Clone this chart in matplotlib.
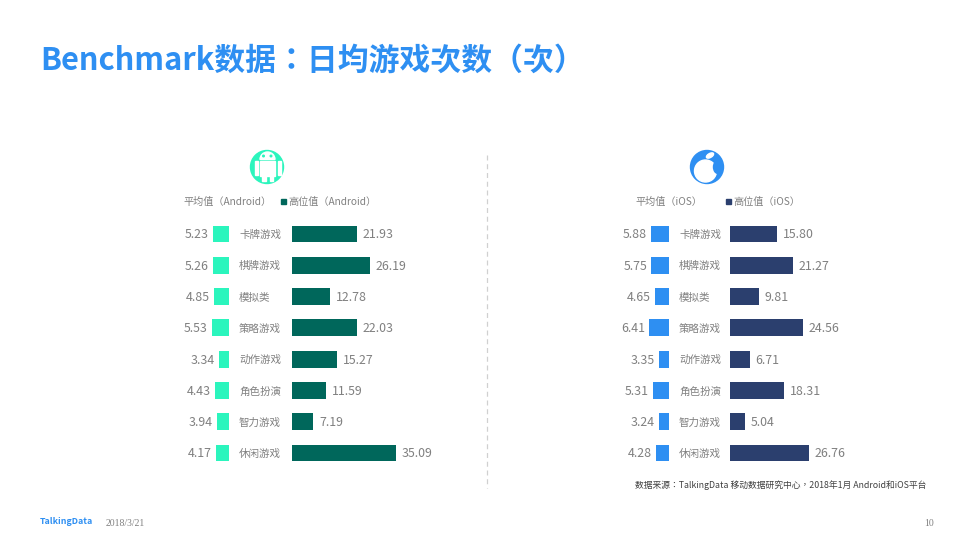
import matplotlib
matplotlib.use('Agg')
import matplotlib.pyplot as plt
from matplotlib.patches import Circle, Rectangle, Ellipse, Wedge

plt.rcParams['font.family'] = ['Noto Sans CJK SC', 'DejaVu Sans']

W, H = 973, 547

categories = ['卡牌游戏', '棋牌游戏', '模拟类', '策略游戏', '动作游戏', '角色扮演', '智力游戏', '休闲游戏']
android_avg = [5.23, 5.26, 4.85, 5.53, 3.34, 4.43, 3.94, 4.17]
android_high = [21.93, 26.19, 12.78, 22.03, 15.27, 11.59, 7.19, 35.09]
ios_avg = [5.88, 5.75, 4.65, 6.41, 3.35, 5.31, 3.24, 4.28]
ios_high = [15.80, 21.27, 9.81, 24.56, 6.71, 18.31, 5.04, 26.76]

GREY = '#808080'
BLUE = '#2e8ff2'
MINT = '#2bf5bd'
TEAL = '#00675b'
SKY = '#2e8ff2'
NAVY = '#2b3f6e'
# TC cuts centre the full width colon and comma, like the original slide
TC = ['Noto Sans CJK TC', 'DejaVu Sans']


def px_axes(fig, left, top, width, height):
    ax = fig.add_axes([left / W, 1 - (top + height) / H, width / W, height / H])
    ax.axis('off')
    return ax


def high_bars(fig, left, values, color):
    ax = px_axes(fig, left, 218.35, 190, 250.3)
    y = range(len(values))
    ax.barh(y, values, height=0.54, color=color)
    ax.set_xlim(0, 190 / 2.97)
    ax.set_ylim(7.5, -0.5)
    for i, v in enumerate(values):
        ax.annotate(f'{v:.2f}', (v, i), xytext=(4.0, -0.7), textcoords='offset points',
                    ha='left', va='center', fontsize=8.9, color=GREY)


def avg_bars(fig, right, values, color):
    ax = px_axes(fig, right - 60, 218.35, 60, 250.3)
    y = range(len(values))
    ax.barh(y, values, height=0.54, color=color)
    ax.set_xlim(60 / 3.05, 0)
    ax.set_ylim(7.5, -0.5)
    for i, v in enumerate(values):
        ax.annotate(f'{v:.2f}', (v, i), xytext=(-3.2, -0.7), textcoords='offset points',
                    ha='right', va='center', fontsize=8.9, color=GREY)
        # category names sit between the two bars
        ax.annotate(categories[i], (0, i), xytext=(7.2, -0.7),
                    textcoords='offset points', ha='left', va='center',
                    fontsize=7.6, color=GREY)


fig = plt.figure(figsize=(W / 100, H / 100), dpi=100, facecolor='white')

# slide level things, in pixel coordinates
bg = fig.add_axes([0, 0, 1, 1])
bg.set_xlim(0, W)
bg.set_ylim(H, 0)
bg.axis('off')

bg.text(40, 61, 'Benchmark数据：日均游戏次数（次）', fontsize=22.2, fontweight='bold',
        color=BLUE, ha='left', va='center', family=TC)
bg.plot([487, 487], [155, 488], color='#d0d0d0', lw=0.9, ls=(0, (4, 3)))

# android icon
bg.add_patch(Circle((267, 167), 16.5, color=MINT))
bg.add_patch(Wedge((267.5, 159.5), 7.5, 180, 360, color='white'))
bg.add_patch(Rectangle((260, 160.5), 15, 15.5, color='white'))
bg.add_patch(Rectangle((254.5, 161), 3, 13.5, color='white'))
bg.add_patch(Rectangle((277.5, 161), 3, 13.5, color='white'))
bg.add_patch(Rectangle((262, 176), 3.5, 5, color='white'))
bg.add_patch(Rectangle((269.5, 176), 3.5, 5, color='white'))
bg.add_patch(Circle((263.5, 156), 0.8, color=MINT))
bg.add_patch(Circle((271, 156), 0.8, color=MINT))

# apple icon
bg.add_patch(Circle((707, 167), 16.5, color=SKY))
bg.add_patch(Ellipse((705.5, 171), 22, 22, color='white'))
bg.add_patch(Ellipse((718, 167), 9, 13, color=SKY))
bg.add_patch(Ellipse((710, 155.5), 8, 4, angle=-30, color='white'))

# legends
bg.text(183, 202.3, '平均值（Android）', fontsize=7.3, color=GREY, ha='left', va='center')
bg.add_patch(Rectangle((281, 199), 5, 5, color=TEAL))
bg.text(288, 202.3, '高位值（Android）', fontsize=7.3, color=GREY, ha='left', va='center')
bg.text(635, 202.3, '平均值（iOS）', fontsize=7.3, color=GREY, ha='left', va='center')
bg.add_patch(Rectangle((726, 198.5), 5, 5, color=NAVY))
bg.text(733, 202.3, '高位值（iOS）', fontsize=7.3, color=GREY, ha='left', va='center')

avg_bars(fig, 229, android_avg, MINT)
high_bars(fig, 292, android_high, TEAL)
avg_bars(fig, 669, ios_avg, SKY)
high_bars(fig, 730, ios_high, NAVY)

# footer
bg.text(926, 485.5, '数据来源：TalkingData 移动数据研究中心，2018年1月 Android和iOS平台',
        fontsize=6.33, color='#404040', ha='right', va='center', family=TC)
bg.text(40, 522, 'TalkingData', fontsize=6.3, fontweight='bold', color=BLUE, ha='left', va='center')
bg.text(106, 523, '2018/3/21', fontsize=7, color=GREY, family=['Liberation Serif'], ha='left', va='center')
bg.text(934, 523, '10', fontsize=7, color=GREY, family=['Liberation Serif'], ha='right', va='center')

fig.savefig('out.png', dpi=100)
